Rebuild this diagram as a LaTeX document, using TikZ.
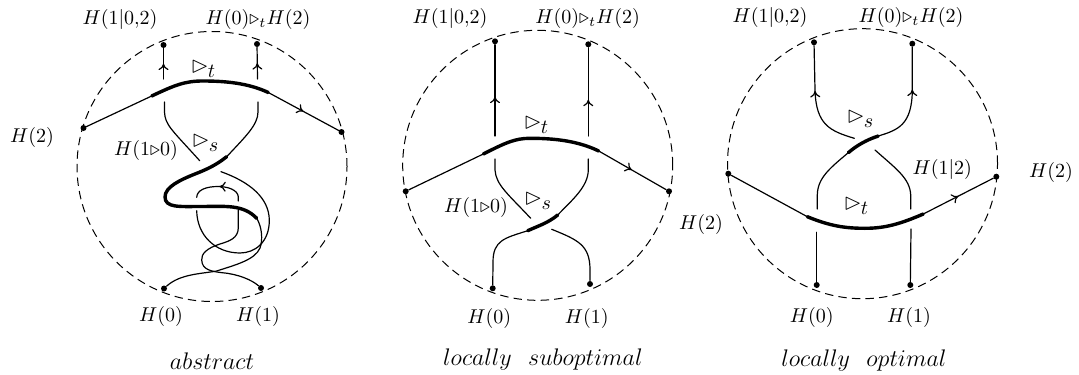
\documentclass[tikz,border=0pt]{standalone}
\usepackage{latexsym}
\usepackage{graphicx}
\usetikzlibrary{arrows.meta,decorations.markings}
\newcommand{\opT}{\scalebox{1.15}{$\rhd$}\hspace{-0.4pt}\lower2.6pt\hbox{$t$}}
\newcommand{\opS}{\scalebox{1.15}{$\rhd$}\hspace{-0.4pt}\lower2.6pt\hbox{$s$}}
\newcommand{\topL}{$H(1|0{,}2)$}
\newcommand{\topR}{$H(0){\triangleright_t}H(2)$}
\tikzset{
  x=0.5pt,y=-0.5pt,
  rim/.style={circle,draw,dashed,dash pattern=on 4.2pt off 2.6pt,line width=0.5pt,minimum size=135pt,inner sep=0pt},
  dot/.style={circle,fill=black,inner sep=0pt,minimum size=3pt},
  lab/.style={inner sep=0pt},
  thin strand/.style={line width=0.6pt,line cap=round},
  thick strand/.style={line width=1.7pt,line cap=round},
  tipat/.style={postaction={decorate},decoration={markings,mark=at position #1 with {\arrow{To[length=3.2pt,width=5pt]}}}},
  captext/.style={inner sep=0pt,font=\fontsize{12.6}{14}\selectfont},
}
\begin{document}
\begin{tikzpicture}
\useasboundingbox (0,0) rectangle (1079,374);
% ---------- abstract ----------
\node[rim] (c1) at (212,166.5) {};
\node[dot] (a1) at (163.5,45) {};
\node[dot] (a2) at (257,44) {};
\node[dot] (a3) at (83.5,128) {};
\node[dot] (a4) at (341.5,132) {};
\node[dot] (a5) at (164,288.5) {};
\node[dot] (a6) at (261,288) {};
\node[lab] (al1) at (120,20) {\topL};
\node[lab] (al2) at (258,20) {\topR};
\node[lab] (al3) at (32,137) {$H(2)$};
\node[lab] (al4) at (146,150) {$H(1{\triangleright}0)$};
\node[lab] (al5) at (203,69) {\opT};
\node[lab] (al6) at (205,143) {\opS};
\node[lab] (al7) at (161,316) {$H(0)$};
\node[lab] (al8) at (258,316) {$H(1)$};
\node[captext] (al9) at (212,361) {$abstract$};
\coordinate (at1) at (151.7,96);
\coordinate (at2) at (268.3,92.5);
\coordinate (ab1) at (163.5,79);
\coordinate (ab2) at (257.5,79);
\coordinate (au1) at (164.5,102);
\coordinate (au2) at (258,102);
\coordinate (ae1) at (199.7,160.7);
\coordinate (as1) at (226.7,156.7);
\coordinate (as2) at (256.7,218.3);
\draw[thin strand] (a3) -- (at1);
\draw[thick strand] (at1) .. controls (175,85) and (185,81) .. (203,81) .. controls (225,81) and (248,83) .. (at2);
\draw[thin strand,tipat=0.5] (at2) -- (a4);
\draw[thin strand,tipat=0.5] (ab1) -- (a1);
\draw[thin strand,tipat=0.5] (ab2) -- (a2);
\draw[thin strand] (au1) -- (164.5,112) .. controls (165,125) and (172,130) .. (ae1);
\draw[thin strand] (au2) -- (258,112) .. controls (258,125) and (245,137) .. (as1);
\draw[thick strand] (as1) .. controls (215,166) and (205,170) .. (195,174) .. controls (180,180) and (165,187) .. (165,197) .. controls (165,208) and (180,206.5) .. (200,206.5) .. controls (225,206.5) and (243,204) .. (as2);
\draw[thin strand] (as2) .. controls (262,227) and (263,240) .. (260,248) .. controls (255,260) and (235,265) .. (216.7,271) .. controls (200,274) and (180,274) .. (a5);
\draw[thin strand] (221,171.7) .. controls (250,182) and (269,198) .. (269.3,220) .. controls (269.5,242) and (255,253) .. (240,253) .. controls (215,253) and (197,235) .. (196.7,210.7);
\draw[thin strand,tipat=0.5] (238.3,201) -- (238.3,197) .. controls (238,190) and (228,186.5) .. (218,186.5) .. controls (206,186.5) and (197,190) .. (196.7,197.3);
\draw[thin strand] (238.3,210) -- (238.3,228) .. controls (238,238) and (230,241) .. (220,244) .. controls (207,248) and (201,254) .. (201.7,260) .. controls (202,270) and (212,271.5) .. (222,272.7) .. controls (238,274) and (252,280) .. (a6);
% ---------- locally suboptimal ----------
\node[rim] (c2) at (537.7,165.3) {};
\node[dot] (b1) at (495,41.3) {};
\node[dot] (b2) at (588.3,44.3) {};
\node[dot] (b3) at (405.7,191.3) {};
\node[dot] (b4) at (669,191.3) {};
\node[dot] (b5) at (492.7,288.3) {};
\node[dot] (b6) at (590,284) {};
\node[lab] (bl1) at (450,19) {\topL};
\node[lab] (bl2) at (587.7,19) {\topR};
\node[lab] (bl3) at (701,224) {$H(2)$};
\node[lab] (bl4) at (476,207) {$H(1{\triangleright}0)$};
\node[lab] (bl5) at (536,125) {\opT};
\node[lab] (bl6) at (537.7,201) {\opS};
\node[lab] (bl7) at (489.3,318) {$H(0)$};
\node[lab] (bl8) at (586.7,318) {$H(1)$};
\node[captext] (bl9) at (543,359) {$locally\ \ suboptimal$};
\coordinate (bt1) at (483.3,154);
\coordinate (bt2) at (598.7,151);
\coordinate (bb1) at (495,136);
\coordinate (bb2) at (588.3,136);
\coordinate (bu1) at (495,159);
\coordinate (bu2) at (588.3,159);
\coordinate (be1) at (530.7,218.3);
\coordinate (bs1) at (557.7,215);
\coordinate (bs2) at (527.7,230.7);
\coordinate (bf1) at (551.7,229.3);
\draw[thin strand] (b3) -- (bt1);
\draw[thick strand] (bt1) .. controls (505,143) and (515,138.3) .. (530,138.3) .. controls (555,138.3) and (578,141) .. (bt2);
\draw[thin strand,tipat=0.49] (bt2) -- (b4);
\draw[thin strand,tipat=0.43] (bb1) -- (b1);
\draw[thin strand,tipat=0.41] (bb2) -- (b2);
\draw[thin strand] (bu1) -- (495,170) .. controls (496,185) and (508,194) .. (be1);
\draw[thin strand] (bu2) -- (588.3,170) .. controls (588,187) and (572,200) .. (bs1);
\draw[thick strand] (bs1) .. controls (548,223) and (538,226) .. (bs2);
\draw[thin strand] (bs2) .. controls (505,238) and (493,240) .. (493,262) -- (b5);
\draw[thin strand] (bf1) .. controls (578,240) and (590,245) .. (590,270) -- (b6);
% ---------- locally optimal ----------
\node[rim] (c3) at (862.5,163.7) {};
\node[dot] (d1) at (814,42.3) {};
\node[dot] (d2) at (912.3,43.7) {};
\node[dot] (d3) at (728.3,173.7) {};
\node[dot] (d4) at (996.3,176.7) {};
\node[dot] (d5) at (816.7,285) {};
\node[dot] (d6) at (910.3,285) {};
\node[lab] (dl1) at (770,18) {\topL};
\node[lab] (dl2) at (911,18) {\topR};
\node[lab] (dl3) at (1051,172) {$H(2)$};
\node[lab] (dl4) at (942.3,169) {$H(1|2)$};
\node[lab] (dl5) at (860,119) {\opS};
\node[lab] (dl6) at (856,206) {\opT};
\node[lab] (dl7) at (811.7,317) {$H(0)$};
\node[lab] (dl8) at (909,317) {$H(1)$};
\node[captext] (dl9) at (864,360) {$locally\ \ optimal$};
\coordinate (dt1) at (807.3,216.7);
\coordinate (dt2) at (923.3,214);
\coordinate (dg1) at (816.7,232.3);
\coordinate (dg2) at (911,229);
\coordinate (du1) at (817.3,209);
\coordinate (du2) at (910.7,209);
\coordinate (ds1) at (848.3,152.7);
\coordinate (ds2) at (878.3,136);
\coordinate (de1) at (875,150);
\coordinate (de2) at (854.3,138.3);
\draw[thin strand] (d3) -- (dt1);
\draw[thick strand] (dt1) .. controls (830,226) and (845,228.3) .. (865,228.3) .. controls (885,228.3) and (900,224) .. (dt2);
\draw[thin strand,tipat=0.5] (dt2) -- (d4);
\draw[thin strand] (dg1) -- (d5);
\draw[thin strand] (dg2) -- (d6);
\draw[thin strand] (du1) -- (817.3,195) .. controls (817.5,178) and (830,168) .. (ds1);
\draw[thick strand] (ds1) .. controls (856,146) and (866,140) .. (ds2);
\draw[thin strand,tipat=0.6] (ds2) .. controls (898,130) and (912,125) .. (912.3,90) -- (d2);
\draw[thin strand] (du2) -- (910.7,195) .. controls (910,178) and (895,168) .. (de1);
\draw[thin strand,tipat=0.6] (de2) .. controls (830,131) and (816,125) .. (815,90) -- (d1);
\end{tikzpicture}
\end{document}
